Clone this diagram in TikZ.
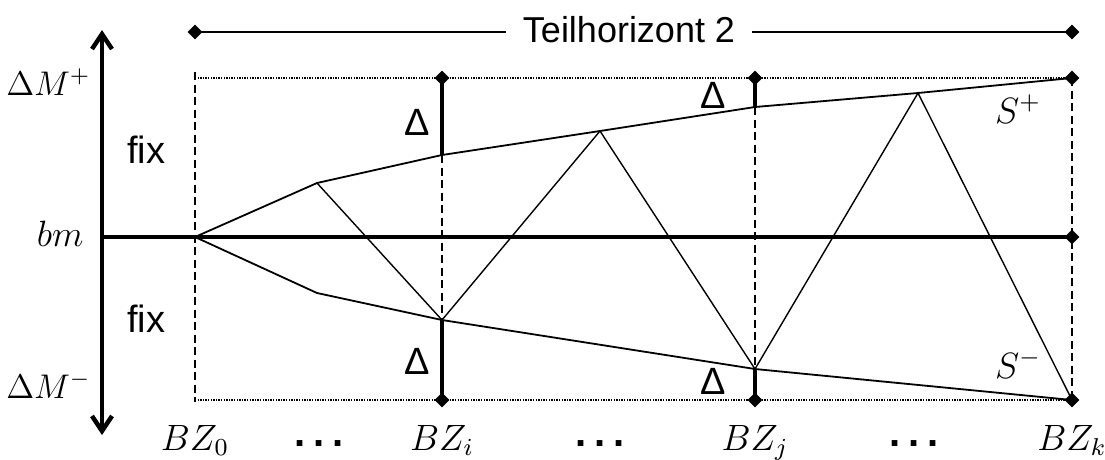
\documentclass[tikz,border=0pt]{standalone}
\usepackage{fontspec}
\setmainfont{Liberation Sans}
\usetikzlibrary{arrows.meta,shapes.geometric}
\begin{document}
\begin{tikzpicture}[x=1pt,y=-1pt,
  dmd/.style={diamond,fill=black,inner sep=0pt,minimum size=15pt},
  bnd/.style={line width=1.8pt},
  zz/.style={line width=1.4pt},
  tline/.style={line width=1.8pt},
  dsh/.style={line width=2.8pt,dash pattern=on 8pt off 4.5pt},
  dtt/.style={line width=1.3pt,dash pattern=on 1.3pt off 1.3pt},
  thk/.style={line width=4.5pt},
  dlt/.style={line width=3.8pt},
  txt/.style={font=\fontsize{36}{40}\selectfont},
  big/.style={font=\fontsize{38}{42}\selectfont},
  mth/.style={font=\fontsize{12}{14}\selectfont,scale=3.05,transform shape},
  mthn/.style={font=\fontsize{12}{14}\selectfont,scale=2.85,transform shape},
  lbl/.style={inner sep=0pt}]
\useasboundingbox (0,0) rectangle (1105,459);
% coordinates
\coordinate (AxT) at (102,30);
\coordinate (AxB) at (102,435);
\coordinate (bmL) at (102,237);
\coordinate (O) at (195,237);
\coordinate (bmR) at (1072,237);
\coordinate (tL) at (195,32);
\coordinate (tR) at (1072,32);
\coordinate (uL) at (195,78);
\coordinate (uI) at (442,78);
\coordinate (uJ) at (755,78);
\coordinate (uK) at (1072,78);
\coordinate (lL) at (195,400);
\coordinate (lI) at (442,400);
\coordinate (lJ) at (755,400);
\coordinate (lK) at (1072,400);
\coordinate (d0t) at (195,72);
\coordinate (d0b) at (195,402);
\coordinate (p1) at (317,183);
\coordinate (pI) at (442,155);
\coordinate (p2) at (600,131);
\coordinate (pJ) at (755,107);
\coordinate (p3) at (918,93);
\coordinate (q1) at (317,293);
\coordinate (qI) at (442,320);
\coordinate (qJ) at (755,369);
% dotted limits
\draw[dtt] (uL) -- (uK);
\draw[dtt] (lL) -- (lK);
% dashed verticals
\draw[dsh] (d0t) -- (d0b);
\draw[dsh] (pI) -- (qI);
\draw[dsh] (pJ) -- (qJ);
\draw[dsh] (uK) -- (lK);
% title line
\node[txt, anchor=base, inner xsep=17pt, inner ysep=0pt] (title) at (629,42) {Teilhorizont 2};
\draw[tline] (tL) -- (title.west |- tL);
\draw[tline] (title.east |- tR) -- (tR);
% axis
\draw[thk, {Straight Barb[length=15pt,width=20pt]}-{Straight Barb[length=15pt,width=20pt]}] (AxT) -- (AxB);
\draw[thk] (bmL) -- (bmR);
% boundaries
\draw[bnd] (O) -- (p1) -- (pI) -- (p2) -- (pJ) -- (p3) -- (uK);
\draw[bnd] (O) -- (q1) -- (qI) -- (qJ) -- (lK);
% zigzag
\draw[zz] (p1) -- (qI) -- (p2) -- (qJ) -- (p3) -- (lK);
% delta segments
\draw[dlt] (uI) -- (pI);
\draw[dlt] (qI) -- (lI);
\draw[dlt] (uJ) -- (pJ);
\draw[dlt] (qJ) -- (lJ);
% diamonds
\node[dmd] (tLd) at (tL) {};
\node[dmd] (tRd) at (tR) {};
\node[dmd] (uId) at (uI) {};
\node[dmd] (uJd) at (uJ) {};
\node[dmd] (uKd) at (uK) {};
\node[dmd] (bmRd) at (bmR) {};
\node[dmd] (lId) at (lI) {};
\node[dmd] (lJd) at (lJ) {};
\node[dmd] (lKd) at (lK) {};
% labels
\node[mthn,lbl,anchor=base east] (dMp) at (91,95) {$\Delta M^{+}$};
\node[mth,lbl,anchor=base east] (bm) at (84,246) {$bm$};
\node[mthn,lbl,anchor=base east] (dMm) at (91,398) {$\Delta M^{-}$};
\node[big,lbl,anchor=base] (fixU) at (146,163) {fix};
\node[big,lbl,anchor=base] (fixL) at (146,332) {fix};
\node[big,lbl,anchor=base] (dIu) at (417,135) {Δ};
\node[big,lbl,anchor=base] (dIl) at (417,374) {Δ};
\node[big,lbl,anchor=base] (dJu) at (713,108) {Δ};
\node[big,lbl,anchor=base] (dJl) at (713,394) {Δ};
\node[mth,lbl,anchor=base] (Sp) at (1018,123) {$S^{+}$};
\node[mth,lbl,anchor=base] (Sm) at (1018,378) {$S^{-}$};
\node[mth,lbl,anchor=base] (BZ0) at (195,450) {$BZ_0$};
\node[mth,lbl,anchor=base] (BZi) at (442,450) {$BZ_i$};
\node[mth,lbl,anchor=base] (BZj) at (755,450) {$BZ_j$};
\node[mth,lbl,anchor=base] (BZk) at (1072,450) {$BZ_k$};
\node[lbl,anchor=base,font=\fontsize{40}{44}\selectfont\bfseries] (dots1) at (319,446) {.\kern8pt.\kern8pt.};
\node[lbl,anchor=base,font=\fontsize{40}{44}\selectfont\bfseries] (dots2) at (600,446) {.\kern8pt.\kern8pt.};
\node[lbl,anchor=base,font=\fontsize{40}{44}\selectfont\bfseries] (dots3) at (914,446) {.\kern8pt.\kern8pt.};
\end{tikzpicture}
\end{document}
